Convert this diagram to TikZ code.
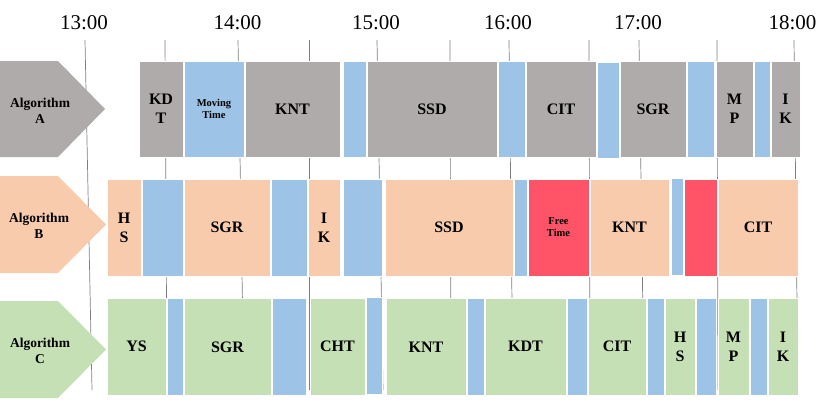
\documentclass[tikz,border=0pt]{standalone}
\usepackage{fontspec}
\setmainfont{Liberation Serif}

\definecolor{slotgray}{HTML}{AFABAB}
\definecolor{movingblue}{HTML}{9DC3E6}
\definecolor{slotpeach}{HTML}{F8CBAD}
\definecolor{slotgreen}{HTML}{C5E0B4}
\definecolor{freered}{HTML}{FF5468}
\definecolor{gridgray}{HTML}{7F7F7F}

\begin{document}
\begin{tikzpicture}[
  x=1pt, y=-1pt,
  slot/.style={draw=white, line width=0.6pt, inner sep=0pt, align=center,
    font=\fontsize{16}{19}\selectfont\bfseries},
  small/.style={font=\fontsize{10.5}{12}\selectfont\bfseries},
  rowA/.style={slot, minimum height=96pt},
  rowB/.style={slot, minimum height=97pt},
  rowC/.style={slot, minimum height=97pt},
  hour/.style={font=\fontsize{21}{21}\selectfont},
  algo/.style={align=center, font=\fontsize{13.5}{15.5}\selectfont\bfseries},
  tick/.style={draw=gridgray, line width=0.7pt}
]
\useasboundingbox (0,0) rectangle (830,399);

% time grid
\foreach \t/\b in {85/92, 165/167, 238/244, 309/309, 377/383, 450/451,
                   509/513, 589/590, 639/644, 717/718, 794/798}
  \draw[tick] (\t,40) -- (\b,390);

\node[hour] (h13) at (84,23) {13:00};
\node[hour] (h14) at (237.5,23) {14:00};
\node[hour] (h15) at (376,23) {15:00};
\node[hour] (h16) at (508,23) {16:00};
\node[hour] (h17) at (638,23) {17:00};
\node[hour] (h18) at (792.5,23) {18:00};

% row labels
\fill[slotgray] (0,61) -- (58,61) -- (105,109) -- (58,157) -- (0,157) -- cycle;
\node[algo] (algA) at (40,111) {Algorithm\\A};
\fill[slotpeach] (0,176) -- (58,176) -- (106,224.5) -- (58,273) -- (0,273) -- cycle;
\node[algo] (algB) at (39,226) {Algorithm\\B};
\fill[slotgreen] (0,301) -- (58,301) -- (106,349.5) -- (58,398) -- (0,398) -- cycle;
\node[algo] (algC) at (40,351) {Algorithm\\C};

% algorithm A
\node[rowA, fill=slotgray, minimum width=44pt] (kdtA) at (161,109) {KD\\T};
\node[rowA, small, fill=movingblue, minimum width=60pt] (moveA1) at (214,109) {Moving\\Time};
\node[rowA, fill=slotgray, minimum width=95pt] (kntA) at (292.5,109) {KNT};
\node[rowA, fill=movingblue, minimum width=23pt] (moveA2) at (354.5,109) {};
\node[rowA, fill=slotgray, minimum width=130pt] (ssdA) at (432,109) {SSD};
\node[rowA, fill=movingblue, minimum width=27pt] (moveA3) at (511.5,109) {};
\node[rowA, fill=slotgray, minimum width=70pt] (citA) at (561,109) {CIT};
\node[rowA, fill=movingblue, minimum width=22pt] (moveA4) at (608,110) {};
\node[rowA, fill=slotgray, minimum width=66pt] (sgrA) at (653,109) {SGR};
\node[rowA, fill=movingblue, minimum width=27pt] (moveA5) at (700.5,109) {};
\node[rowA, fill=slotgray, minimum width=37pt] (mpA) at (734.5,109) {M\\P};
\node[rowA, fill=movingblue, minimum width=16pt] (moveA6) at (762,109) {};
\node[rowA, fill=slotgray, minimum width=29pt] (ikA) at (785.5,109) {I\\K};

% algorithm B
\node[rowB, fill=slotpeach, minimum width=34pt] (hsB) at (124,227.5) {H\\S};
\node[rowB, fill=movingblue, minimum width=41pt] (moveB1) at (162.5,227.5) {};
\node[rowB, fill=slotpeach, minimum width=86pt] (sgrB) at (227,227.5) {SGR};
\node[rowB, fill=movingblue, minimum width=36pt] (moveB2) at (289,227.5) {};
\node[rowB, fill=slotpeach, minimum width=32pt] (ikB) at (324,227.5) {I\\K};
\node[rowB, fill=movingblue, minimum width=39pt] (moveB3) at (362.5,227.5) {};
\node[rowB, fill=slotpeach, minimum width=128pt] (ssdB) at (449,227.5) {SSD};
\node[rowB, fill=movingblue, minimum width=13pt] (moveB4) at (520.5,227.5) {};
\node[rowB, small, fill=freered, minimum width=61pt] (freeB1) at (558.5,227.5) {Free\\Time};
\node[rowB, fill=slotpeach, minimum width=79pt] (kntB) at (629.5,227.5) {KNT};
\node[rowB, fill=movingblue, minimum width=12pt] (moveB5) at (677,227) {};
\node[rowB, fill=freered, minimum width=33pt] (freeB2) at (700.5,227.5) {};
\node[rowB, fill=slotpeach, minimum width=80pt] (citB) at (758,227.5) {CIT};

% algorithm C
\node[rowC, fill=slotgreen, minimum width=59pt] (ysC) at (136.5,346.5) {YS};
\node[rowC, fill=movingblue, minimum width=16pt] (moveC1) at (175,346.5) {};
\node[rowC, fill=slotgreen, minimum width=87pt] (sgrC) at (227.5,347) {SGR};
\node[rowC, fill=movingblue, minimum width=34pt] (moveC2) at (289,346.5) {};
\node[rowC, fill=slotgreen, minimum width=55pt] (chtC) at (337.5,346.5) {CHT};
\node[rowC, fill=movingblue, minimum width=16pt] (moveC3) at (374,346) {};
\node[rowC, fill=slotgreen, minimum width=80pt] (kntC) at (426,347) {KNT};
\node[rowC, fill=movingblue, minimum width=17pt] (moveC4) at (475.5,346.5) {};
\node[rowC, fill=slotgreen, minimum width=81pt] (kdtC) at (525.5,346.5) {KDT};
\node[rowC, fill=movingblue, minimum width=20pt] (moveC5) at (577,346.5) {};
\node[rowC, fill=slotgreen, minimum width=58pt] (citC) at (617,346.5) {CIT};
\node[rowC, fill=movingblue, minimum width=17pt] (moveC6) at (655.5,346.5) {};
\node[rowC, fill=slotgreen, minimum width=30pt] (hsC) at (680,347) {H\\S};
\node[rowC, fill=movingblue, minimum width=20pt] (moveC7) at (706,346.5) {};
\node[rowC, fill=slotgreen, minimum width=31pt] (mpC) at (733.5,346.5) {M\\P};
\node[rowC, fill=movingblue, minimum width=17pt] (moveC8) at (758.5,346.5) {};
\node[rowC, fill=slotgreen, minimum width=30pt] (ikC) at (783,346.5) {I\\K};
\end{tikzpicture}
\end{document}
